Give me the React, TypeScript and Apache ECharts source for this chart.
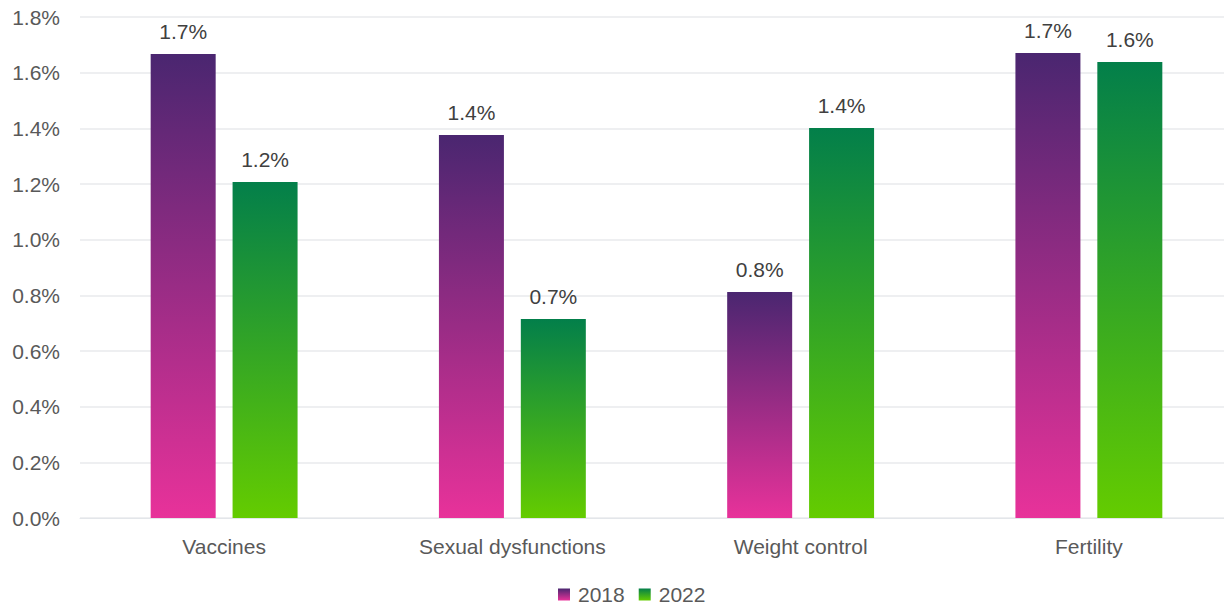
import React, { useEffect, useRef } from "react";
import * as echarts from "echarts";

const categories = ["Vaccines", "Sexual dysfunctions", "Weight control", "Fertility"];
const values2018 = [1.667, 1.376, 0.812, 1.671];
const values2022 = [1.207, 0.715, 1.401, 1.638];
const seriesNames = ["2018", "2022"];

const grad = (top: string, bottom: string) =>
  new echarts.graphic.LinearGradient(0, 0, 0, 1, [
    { offset: 0, color: top },
    { offset: 1, color: bottom },
  ]);

export default function App() {
  const ref = useRef<HTMLDivElement>(null);
  useEffect(() => {
    if (!ref.current) return;
    const chart = echarts.init(ref.current, null, { renderer: "svg" });
    const font = "'Liberation Sans', Arial, sans-serif";
    const labelCfg = {
      show: true,
      position: "top",
      distance: 12,
      color: "#404040",
      fontSize: 21,
      fontFamily: font,
      formatter: (p: any) => p.value.toFixed(1) + "%",
    };
    chart.setOption({
      animation: false,
      textStyle: { fontFamily: font },
      grid: {
        left: 80,
        width: 1153,
        top: 17,
        bottom: 87,
        containLabel: false,
        outerBoundsMode: "none",
      },
      legend: {
        top: 584,
        left: 558,
        padding: 0,
        itemWidth: 12,
        itemHeight: 12,
        itemGap: 14,
        icon: "rect",
        textStyle: { color: "#595959", fontSize: 21, fontFamily: font, padding: [0, 0, 0, 3] },
        data: seriesNames,
      },
      xAxis: {
        type: "category",
        data: categories,
        axisLine: { show: true, lineStyle: { color: "#e3e6ea" } },
        axisTick: { show: false },
        axisLabel: { color: "#595959", fontSize: 21, margin: 18, fontFamily: font },
      },
      yAxis: {
        type: "value",
        min: 0,
        max: 1.8,
        interval: 0.2,
        axisLine: { show: false },
        axisTick: { show: false },
        splitLine: { lineStyle: { color: "#e8eaed", width: 1.5 } },
        axisLabel: {
          color: "#595959",
          fontSize: 21,
          margin: 20,
          fontFamily: font,
          formatter: (v: number) => v.toFixed(1) + "%",
        },
      },
      series: [
        {
          name: seriesNames[0],
          type: "bar",
          data: values2018,
          barWidth: 65,
          barGap: "26%",
          itemStyle: { color: grad("#4a2670", "#e8329a") },
          label: labelCfg,
        },
        {
          name: seriesNames[1],
          type: "bar",
          data: values2022,
          barWidth: 65,
          itemStyle: { color: grad("#037f4a", "#64cc00") },
          label: labelCfg,
        },
      ],
    });
    return () => chart.dispose();
  }, []);
  return (
    <div
      ref={ref}
      style={{ position: "fixed", left: 0, top: 0, width: 1224, height: 605, background: "#fff", overflow: "hidden" }}
    />
  );
}
